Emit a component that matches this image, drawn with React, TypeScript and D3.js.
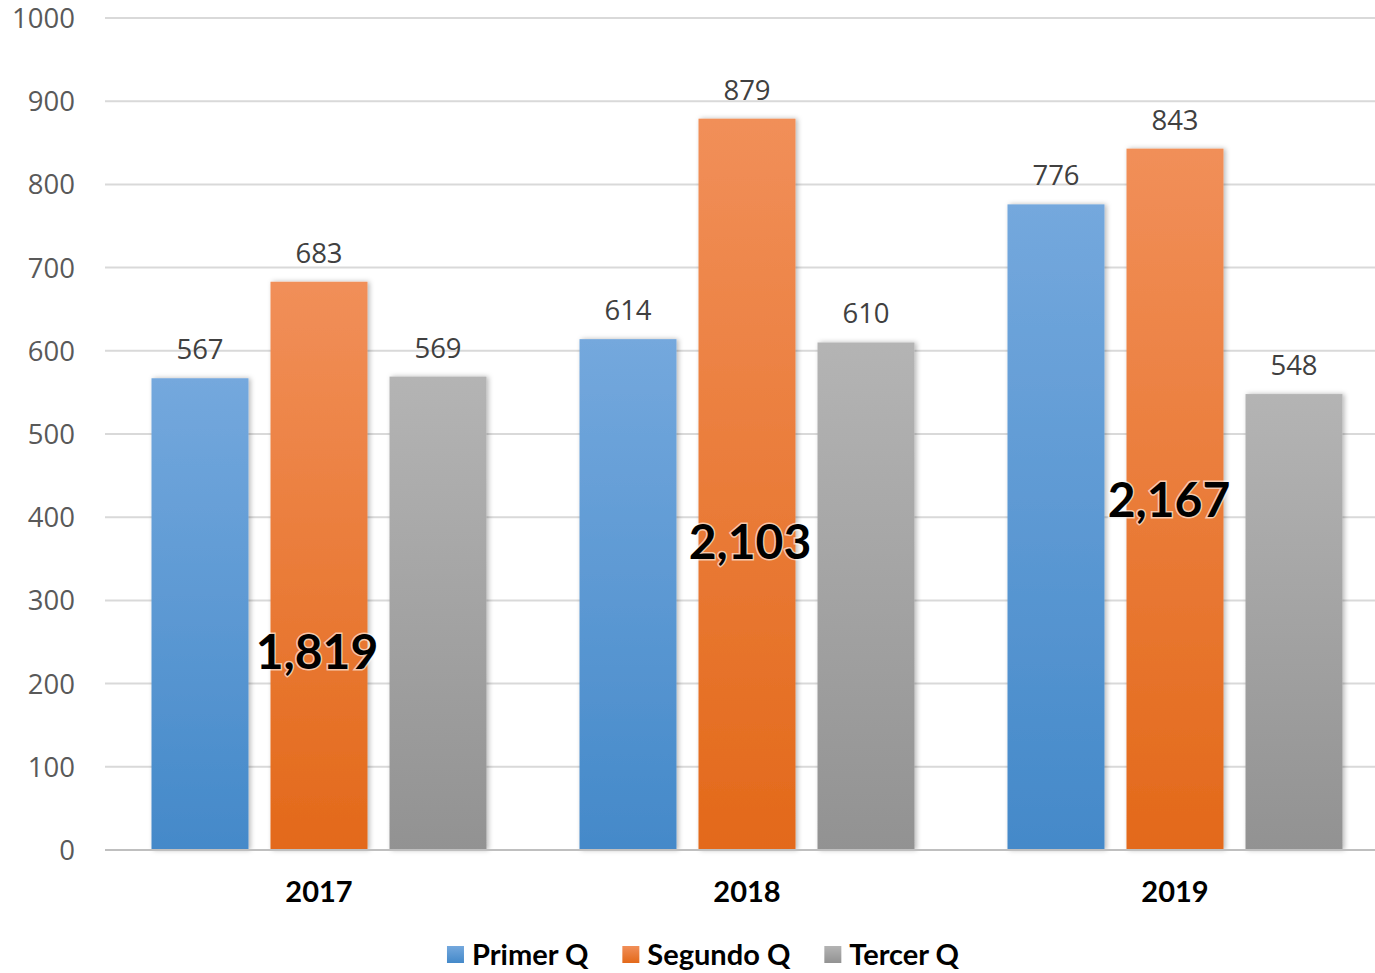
import { useEffect, useRef } from 'react'
import * as d3 from 'd3'

// Values per quarter series
const YEARS = ['2017', '2018', '2019']
const SERIES = ['Primer Q', 'Segundo Q', 'Tercer Q']
const PRIMER = [567, 614, 776]
const SEGUNDO = [683, 879, 843]
const TERCER = [569, 610, 548]
const TOTALS = ['1,819', '2,103', '2,167']
// where the big total labels sit, in axis units
const TOTAL_ANCHOR = [238, 370, 421]
const Y_TICKS = [0, 100, 200, 300, 400, 500, 600, 700, 800, 900, 1000]

const GRADS = [
  { id: 'gBlue', top: '#74a8dd', bottom: '#4489c9' },
  { id: 'gOrange', top: '#f18f59', bottom: '#e3691a' },
  { id: 'gGray', top: '#b4b4b4', bottom: '#929292' },
]

const W = 1375
const H = 973

export default function App() {
  const svgRef = useRef<SVGSVGElement>(null)

  useEffect(() => {
    document.body.style.margin = '0'
    if (!svgRef.current) return
    const svg = d3.select(svgRef.current)
    svg.selectAll('*').remove()

    const left = 105
    const right = 1375
    const top = 18
    const bottom = 850
    const numFont = "'Open Sans', sans-serif"
    const boldFont = "Lato, sans-serif"

    const y = d3.scaleLinear().domain([0, 1000]).range([bottom, top])
    const x = d3.scaleBand<string>().domain(YEARS).range([left, 1389]).padding(0)
    const groupW = 335
    const xi = d3.scaleBand<string>().domain(SERIES).range([0, groupW]).paddingInner(0.185).paddingOuter(0)

    const defs = svg.append('defs')
    GRADS.forEach(gd => {
      const lg = defs.append('linearGradient')
        .attr('id', gd.id)
        .attr('x1', '0').attr('y1', '0').attr('x2', '0').attr('y2', '1')
      lg.append('stop').attr('offset', '0%').attr('stop-color', gd.top)
      lg.append('stop').attr('offset', '100%').attr('stop-color', gd.bottom)
    })
    const f = defs.append('filter').attr('id', 'shadow')
      .attr('x', '-10%').attr('y', '-10%').attr('width', '130%').attr('height', '120%')
    f.append('feDropShadow')
      .attr('dx', 2).attr('dy', 0).attr('stdDeviation', 2.5)
      .attr('flood-color', '#000').attr('flood-opacity', 0.28)

    // gridlines
    svg.append('g').selectAll('line')
      .data(Y_TICKS.filter(t => t > 0))
      .join('line')
      .attr('x1', left).attr('x2', right)
      .attr('y1', d => y(d)).attr('y2', d => y(d))
      .attr('stroke', '#d9d9d9').attr('stroke-width', 2)

    // y tick labels
    svg.append('g').selectAll('text')
      .data(Y_TICKS)
      .join('text')
      .attr('x', 75)
      .attr('y', d => y(d))
      .attr('dy', '0.36em')
      .attr('text-anchor', 'end')
      .attr('font-family', numFont)
      .attr('font-size', 27.5)
      .attr('fill', '#595959')
      .text(d => d)

    const seriesVals = [PRIMER, SEGUNDO, TERCER]

    const groups = svg.append('g').selectAll('g')
      .data(YEARS)
      .join('g')
      .attr('transform', d => `translate(${(x(d) as number) + (x.bandwidth() - groupW) / 2},0)`)

    groups.each(function (year, yi) {
      const g = d3.select(this)
      SERIES.forEach((s, si) => {
        const v = seriesVals[si][yi]
        g.append('rect')
          .attr('x', xi(s) as number)
          .attr('y', y(v))
          .attr('width', xi.bandwidth())
          .attr('height', y(0) - y(v))
          .attr('fill', `url(#${GRADS[si].id})`)
          .attr('filter', 'url(#shadow)')
        g.append('text')
          .attr('x', (xi(s) as number) + xi.bandwidth() / 2)
          .attr('y', y(v) - 19)
          .attr('text-anchor', 'middle')
          .attr('font-family', numFont)
          .attr('font-size', 27.5)
          .attr('fill', '#404040')
          .text(v)
      })
    })

    // zero axis line
    svg.append('line')
      .attr('x1', left).attr('x2', right)
      .attr('y1', y(0)).attr('y2', y(0))
      .attr('stroke', '#bfbfbf').attr('stroke-width', 2)

    // category labels
    svg.append('g').selectAll('text')
      .data(YEARS)
      .join('text')
      .attr('x', d => (x(d) as number) + x.bandwidth() / 2)
      .attr('y', 902)
      .attr('text-anchor', 'middle')
      .attr('font-family', boldFont)
      .attr('font-weight', 'bold')
      .attr('font-size', 29)
      .attr('fill', '#000')
      .text(d => d)

    // totals
    const totalShift = [-2, 3, -6]
    svg.append('g').selectAll('text')
      .data(YEARS)
      .join('text')
      .attr('x', (d, i) => (x(d) as number) + x.bandwidth() / 2 + totalShift[i])
      .attr('y', (d, i) => y(TOTAL_ANCHOR[i]))
      .attr('dy', '0.36em')
      .attr('text-anchor', 'middle')
      .attr('font-family', boldFont)
      .attr('font-weight', 'bold')
      .attr('font-size', 48)
      .attr('fill', '#000')
      .attr('stroke', '#fff')
      .attr('stroke-width', 3)
      .attr('stroke-opacity', 0.6)
      .attr('paint-order', 'stroke')
      .text((d, i) => TOTALS[i])

    // legend
    const legend = svg.append('g')
    let cx = 0
    SERIES.forEach((s, si) => {
      const item = legend.append('g').attr('transform', `translate(${cx},0)`)
      item.append('rect')
        .attr('x', 0).attr('y', -9)
        .attr('width', 17).attr('height', 17)
        .attr('fill', `url(#${GRADS[si].id})`)
      const t = item.append('text')
        .attr('x', 25)
        .attr('y', 0)
        .attr('dy', '0.36em')
        .attr('font-family', boldFont)
        .attr('font-weight', 'bold')
        .attr('font-size', 29)
        .attr('fill', '#000')
        .text(s)
      const tw = (t.node() as SVGTextElement).getComputedTextLength()
      cx += 25 + tw + (si < SERIES.length - 1 ? 34 : 0)
    })
    legend.attr('transform', `translate(${703 - cx / 2},955)`)
  }, [])

  return <svg ref={svgRef} width={W} height={H} style={{ display: 'block', background: '#fff' }} />
}
